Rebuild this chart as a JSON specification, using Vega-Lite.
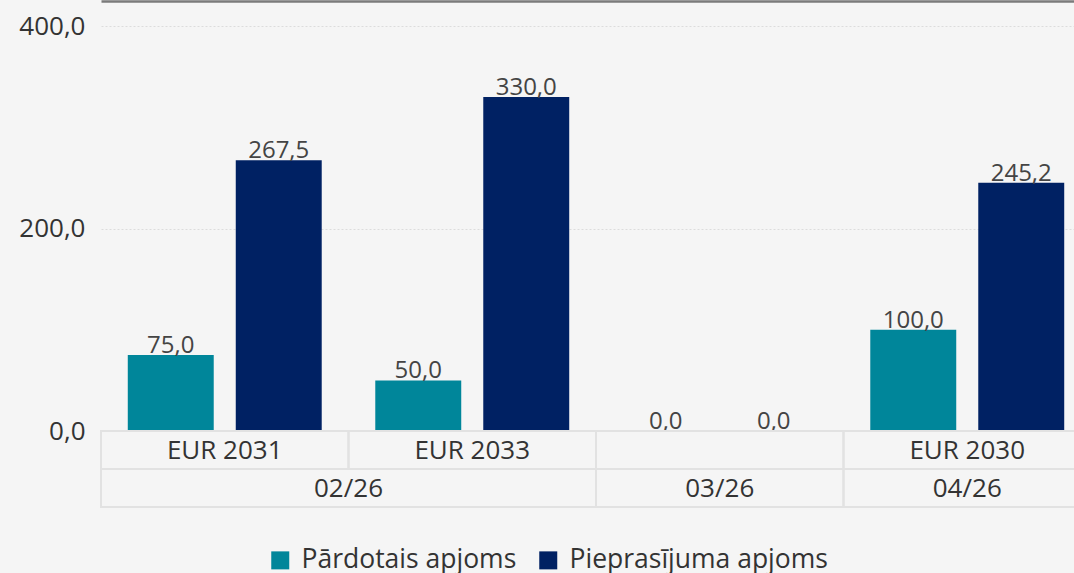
{
  "$schema": "https://vega.github.io/schema/vega-lite/v6.json",
  "background": "#f5f5f5",
  "padding": {"left": 18, "top": 1, "right": 0, "bottom": 0},
  "config": {
    "locale": {"number": {"decimal": ",", "thousands": " ", "grouping": [3], "currency": ["", " €"]}},
    "view": {"stroke": null},
    "font": "Open Sans"
  },
  "bounds": "flush",
  "spacing": 0,
  "vconcat": [
    {
      "width": 990,
      "height": 405,
      "data": {"values": [
        {"cell": "02/26 EUR 2031", "series": "Pārdotais apjoms", "value": 75.0},
        {"cell": "02/26 EUR 2031", "series": "Pieprasījuma apjoms", "value": 267.5},
        {"cell": "02/26 EUR 2033", "series": "Pārdotais apjoms", "value": 50.0},
        {"cell": "02/26 EUR 2033", "series": "Pieprasījuma apjoms", "value": 330.0},
        {"cell": "03/26", "series": "Pārdotais apjoms", "value": 0.0},
        {"cell": "03/26", "series": "Pieprasījuma apjoms", "value": 0.0},
        {"cell": "04/26 EUR 2030", "series": "Pārdotais apjoms", "value": 100.0},
        {"cell": "04/26 EUR 2030", "series": "Pieprasījuma apjoms", "value": 245.2}
      ]},
      "encoding": {
        "x": {"field": "cell", "type": "nominal", "sort": null,
          "scale": {"paddingInner": 0, "paddingOuter": 0},
          "axis": {"orient": "top", "title": null, "labels": false, "ticks": false, "domain": true, "domainColor": "#7b7b7b", "domainWidth": 2.5, "offset": 25, "grid": false}},
        "xOffset": {"field": "series", "type": "nominal", "sort": null,
          "scale": {"paddingInner": 0.204, "paddingOuter": 0.248}},
        "y": {"field": "value", "type": "quantitative",
          "scale": {"domain": [0, 400]},
          "axis": {"values": [0, 200, 400], "format": ".1f", "title": null, "domain": false, "ticks": false, "labelFontSize": 26, "labelColor": "#333333", "labelPadding": 16, "grid": true, "gridColor": "#dcdcdc", "gridDash": [2, 2], "gridWidth": 1}}
      },
      "layer": [
        {
          "mark": {"type": "bar"},
          "encoding": {
            "color": {"field": "series", "type": "nominal", "sort": null,
              "scale": {"domain": ["Pārdotais apjoms", "Pieprasījuma apjoms"], "range": ["#00869a", "#002163"]},
              "legend": {"orient": "none", "legendX": 166, "legendY": 521, "direction": "horizontal", "title": null, "symbolType": "square", "symbolSize": 324, "symbolStrokeWidth": 0, "labelFontSize": 26.5, "labelColor": "#333333", "labelOffset": 8, "columnPadding": 18, "labelLimit": 400}}
          }
        },
        {
          "mark": {"type": "text", "baseline": "alphabetic", "dy": -2, "fontSize": 24, "color": "#444444"},
          "encoding": {"text": {"field": "value", "type": "quantitative", "format": ".1f"}}
        }
      ]
    },
    {
      "width": 990,
      "height": 76,
      "data": {"values": [
        {"id": "i1", "level": "instrument", "label": "EUR 2031", "edge": 0},
        {"id": "i1", "level": "instrument", "label": "EUR 2031", "edge": 1},
        {"id": "i2", "level": "instrument", "label": "EUR 2033", "edge": 1},
        {"id": "i2", "level": "instrument", "label": "EUR 2033", "edge": 2},
        {"id": "i3", "level": "instrument", "label": "", "edge": 2},
        {"id": "i3", "level": "instrument", "label": "", "edge": 3},
        {"id": "i4", "level": "instrument", "label": "EUR 2030", "edge": 3},
        {"id": "i4", "level": "instrument", "label": "EUR 2030", "edge": 4},
        {"id": "m1", "level": "month", "label": "02/26", "edge": 0},
        {"id": "m1", "level": "month", "label": "02/26", "edge": 2},
        {"id": "m2", "level": "month", "label": "03/26", "edge": 2},
        {"id": "m2", "level": "month", "label": "03/26", "edge": 3},
        {"id": "m3", "level": "month", "label": "04/26", "edge": 3},
        {"id": "m3", "level": "month", "label": "04/26", "edge": 4}
      ]},
      "encoding": {
        "y": {"field": "level", "type": "nominal", "sort": null,
          "scale": {"domain": ["instrument", "month"], "paddingInner": 0, "paddingOuter": 0}, "axis": null}
      },
      "layer": [
        {
          "mark": {"type": "rect", "fill": "transparent", "stroke": "#e2e2e2", "strokeWidth": 2},
          "encoding": {
            "x": {"aggregate": "min", "field": "edge", "type": "quantitative", "scale": {"domain": [0, 4], "nice": false, "zero": false}, "axis": null},
            "x2": {"aggregate": "max", "field": "edge"},
            "detail": {"field": "id", "type": "nominal"}
          }
        },
        {
          "mark": {"type": "text", "fontSize": 26, "color": "#333333", "baseline": "middle", "dy": 1},
          "encoding": {
            "x": {"aggregate": "mean", "field": "edge", "type": "quantitative"},
            "text": {"field": "label", "type": "nominal"},
            "detail": {"field": "id", "type": "nominal"}
          }
        }
      ]
    }
  ]
}
